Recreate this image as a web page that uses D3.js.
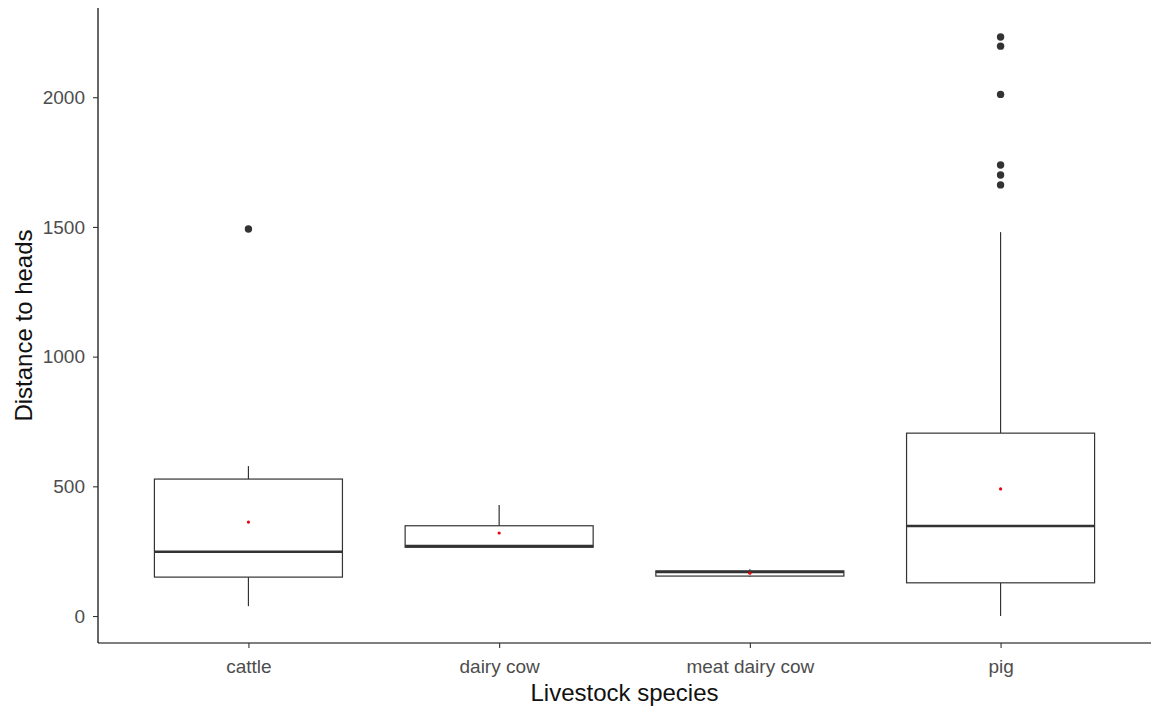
<!DOCTYPE html>
<html><head><meta charset="utf-8">
<script src="https://cdn.jsdelivr.net/npm/d3@7"></script>
<style>body{margin:0;background:#fff}svg{display:block}text{font-family:"Liberation Sans",Arial,sans-serif}</style>
</head><body><svg id="c" width="1151" height="712"></svg>
<script>
const categories = ["cattle","dairy cow","meat dairy cow","pig"];
const whiskerLow  = [38, 265, 152, 0];
const q1          = [150, 265, 154, 128];
const median      = [248, 270, 170, 347];
const q3          = [528, 348, 174, 705];
const whiskerHigh = [578, 428, 180, 1480];
const means       = [362, 320, 165, 490];
const outliers    = [[1492],[],[],[2232,2197,2011,1739,1700,1662]];
const yTicks      = [0,500,1000,1500,2000];

(function(){
const svg = d3.select("#c");
const pL = 98, pR = 1151, pT = 8, pB = 643;
const step = (pR-pL)/(categories.length-1+1.2);
const x = d3.scalePoint().domain(categories).range([pL+step*0.6, pR-step*0.6]);
const y = d3.scaleLinear().domain([-104, 2344]).range([pB, pT]);
const bw = step*0.75;
const ink = "#333333";

categories.forEach((c,i)=>{
  const cx = x(c);
  const g = svg.append("g");
  g.append("line").attr("x1",cx).attr("x2",cx).attr("y1",y(q3[i])).attr("y2",y(whiskerHigh[i])).attr("stroke",ink).attr("stroke-width",1.2);
  g.append("line").attr("x1",cx).attr("x2",cx).attr("y1",y(q1[i])).attr("y2",y(whiskerLow[i])).attr("stroke",ink).attr("stroke-width",1.2);
  g.append("rect").attr("x",cx-bw/2).attr("width",bw).attr("y",y(q3[i])).attr("height",y(q1[i])-y(q3[i]))
    .attr("fill","#fff").attr("stroke",ink).attr("stroke-width",1.2);
  g.append("line").attr("x1",cx-bw/2).attr("x2",cx+bw/2).attr("y1",y(median[i])).attr("y2",y(median[i])).attr("stroke",ink).attr("stroke-width",2.6);
  outliers[i].forEach(v=>{
    g.append("circle").attr("cx",cx).attr("cy",y(v)).attr("r",3.7).attr("fill",ink);
  });
  g.append("circle").attr("cx",cx).attr("cy",y(means[i])).attr("r",1.6).attr("fill","#e8000b");
});

const yAxis = svg.append("g").attr("transform",`translate(${pL},0)`)
  .call(d3.axisLeft(y).tickValues(yTicks).tickFormat(d3.format("d")).tickSize(5).tickPadding(8));
yAxis.select(".domain").attr("d",`M0,${pT}V${pB}`).attr("stroke","#000").attr("stroke-width",1.2);
yAxis.selectAll(".tick line").attr("stroke","#333").attr("stroke-width",1.1);
yAxis.selectAll(".tick text").attr("fill","#4d4d4d").style("font-size","19px");

const xAxis = svg.append("g").attr("transform",`translate(0,${pB})`)
  .call(d3.axisBottom(x).tickSize(5).tickPadding(12));
xAxis.select(".domain").attr("d",`M${pL},0H${pR}`).attr("stroke","#000").attr("stroke-width",1.2);
xAxis.selectAll(".tick line").attr("stroke","#333").attr("stroke-width",1.1);
xAxis.selectAll(".tick text").attr("fill","#4d4d4d").style("font-size","19px");

svg.append("text").attr("x",(pL+pR)/2).attr("y",701).attr("text-anchor","middle").style("font-size","24px").attr("fill","#111").text("Livestock species");
svg.append("text").attr("transform",`translate(32,${(pT+pB)/2}) rotate(-90)`).attr("text-anchor","middle").style("font-size","24px").attr("fill","#111").text("Distance to heads");
})();
</script></body></html>
